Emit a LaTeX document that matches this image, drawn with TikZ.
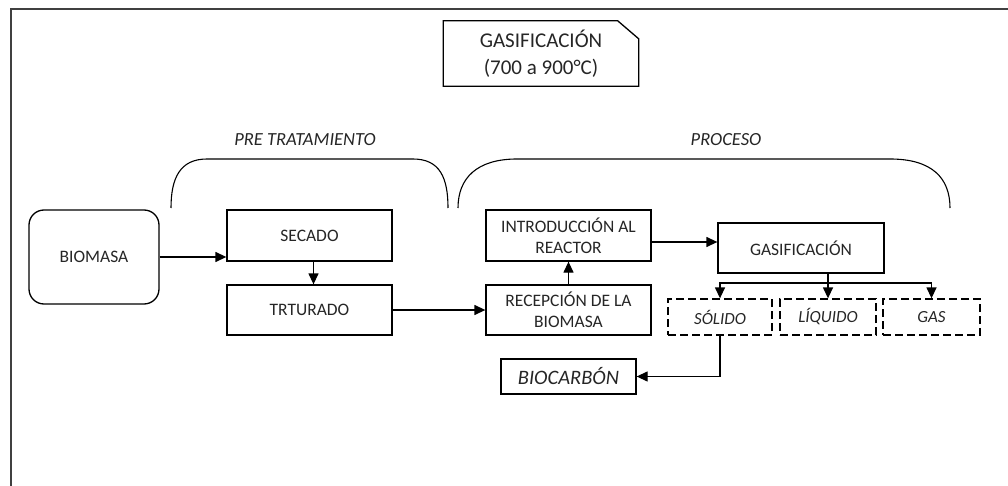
\documentclass[tikz,border=0pt]{standalone}
\usepackage{fontspec}
\setmainfont{Carlito}
\usetikzlibrary{arrows.meta}
\begin{document}
\begin{tikzpicture}[x=1pt,y=-1pt,
  box/.style={draw=black, line width=1.3pt, inner sep=0pt, align=center,
    font=\fontsize{17.5}{21}\selectfont, text=black!85},
  dbox/.style={box, dash pattern=on 8pt off 4pt, font=\fontsize{17}{20}\selectfont\itshape},
  arr/.style={line width=1.3pt, -{Triangle[length=11pt,width=10pt]}},
  line/.style={line width=1.3pt},
  lbl/.style={font=\fontsize{18.5}{22}\selectfont\itshape, text=black!85, inner sep=0pt},
  brace/.style={line width=1.1pt}]
\useasboundingbox (0,0) rectangle (1008,486);
\fill[white] (0,0) rectangle (1008,486);
% frame
\draw[line width=2pt, black!75] (1008,9) -- (11,9) -- (11,486);
% title
\node (title) [minimum width=195pt, minimum height=65pt, inner sep=0pt, align=center,
  font=\fontsize{21}{26.5}\selectfont, text=black!85] at (541,53.5) {GASIFICACIÓN\\(700 a 900°C)};
\draw[line width=1.3pt] (title.north west) -- ([xshift=-21pt]title.north east)
  -- ([yshift=-18pt]title.north east) -- (title.south east) -- (title.south west) -- cycle;
% labels
\node[lbl] (pre) at (305,140) {PRE TRATAMIENTO};
\node[lbl] (proc) at (726,140) {PROCESO};
% braces
\draw[brace] (171,208) .. controls (171,178) and (180,159) .. (207,159) -- (413,159)
  .. controls (440,159) and (448,178) .. (448,208);
\draw[brace] (458,208) .. controls (458,178) and (477,159) .. (517,159) -- (890,159)
  .. controls (932,159) and (950,178) .. (950,208);
% boxes
\node[box, rounded corners=15pt, minimum width=130pt, minimum height=94pt] (biomasa) at (94,257) {BIOMASA};
\node[box, minimum width=165pt, minimum height=51pt] (secado) at (309.5,235.5) {SECADO};
\node[box, minimum width=165pt, minimum height=50pt] (trt) at (309.5,310) {TRTURADO};
\node[box, minimum width=165pt, minimum height=51pt] (intro) at (568.5,235.5) {INTRODUCCIÓN AL\\REACTOR};
\node[box, minimum width=165pt, minimum height=50pt] (recep) at (568.5,310) {RECEPCIÓN DE LA\\BIOMASA};
\node[box, minimum width=166pt, minimum height=50pt] (gasif) at (801,248) {GASIFICACIÓN};
\node[dbox, minimum width=104pt, minimum height=36pt] (solido) at (720,317) {SÓLIDO};
\node[dbox, minimum width=96pt, minimum height=36pt] (liquido) at (828,317) {LÍQUIDO};
\node[dbox, minimum width=97pt, minimum height=36pt] (gasb) at (931.5,317) {GAS};
\node[box, minimum width=135pt, minimum height=35pt, font=\fontsize{20.5}{24}\selectfont\itshape] (bioc) at (568.5,376.5) {BIOCARBÓN};
% connectors
\draw[arr] (biomasa.east) -- (biomasa.east -| secado.west);
\draw[arr] ([xshift=4pt]secado.south) -- ([xshift=4pt]trt.north);
\draw[arr] (trt.east) -- (trt.east -| recep.west);
\draw[arr] (recep.north) -- (intro.south);
\draw[arr] ([yshift=-6.5pt]intro.east) -- ([yshift=-6.5pt]intro.east -| gasif.west);
\coordinate (br) at (828,283);
\draw[line] ([xshift=27pt]gasif.south) -- (br);
\draw[arr] (br) -- (liquido.north);
\draw[arr] (br) -| (solido.north);
\draw[arr] (br) -| (gasb.north);
\draw[arr] (solido.south) |- (bioc.east);
\end{tikzpicture}
\end{document}
